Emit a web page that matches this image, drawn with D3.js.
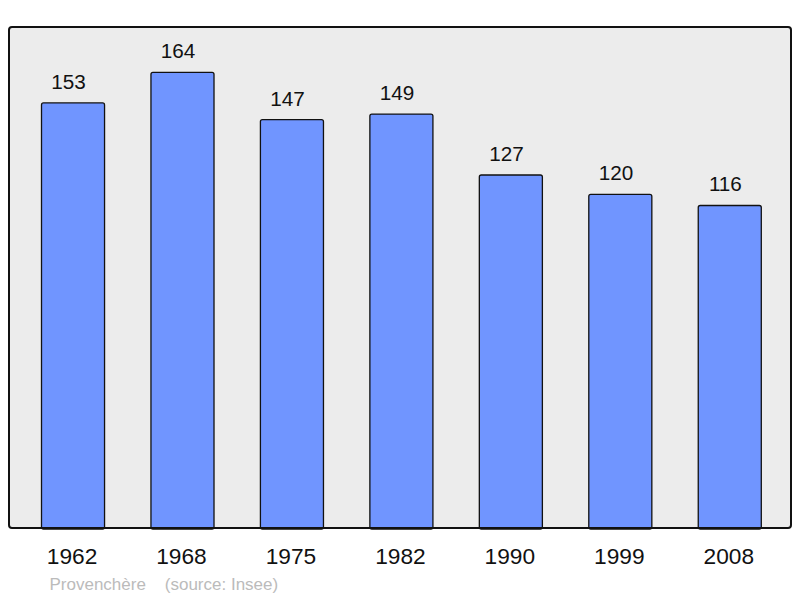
<!DOCTYPE html>
<html><head><meta charset="utf-8">
<script src="https://cdn.jsdelivr.net/npm/d3@7"></script>
<style>html,body{margin:0;padding:0;background:#fff;}svg{display:block;font-family:"Liberation Sans",Arial,sans-serif;}</style>
</head><body>
<svg id="c" width="800" height="598"></svg>
<script>
const years = ["1962","1968","1975","1982","1990","1999","2008"];
const population = [153,164,147,149,127,120,116];
const footerName = "Provenchère";
const footerSource = "(source: Insee)";

const svg = d3.select("#c");
const frame = {x:9, y:27, w:782, h:501};
const x = d3.scaleBand().domain(years).range([18.3, 784.5]).paddingInner(0.424).paddingOuter(0.212);
const y = d3.scaleLinear().domain([0, d3.max(population)*1.1]).range([frame.y+frame.h-1, frame.y]);

svg.append("rect").attr("x",frame.x).attr("y",frame.y).attr("width",frame.w).attr("height",frame.h)
  .attr("rx",3).attr("fill","#ececec").attr("stroke","none");

const data = years.map((yr,i)=>({yr, v: population[i]}));
svg.selectAll("rect.bar").data(data).enter().append("rect").attr("class","bar")
  .attr("x", d=>x(d.yr)).attr("width", x.bandwidth())
  .attr("y", d=>y(d.v)).attr("height", d=>y(0)-y(d.v)+2)
  .attr("rx",2).attr("fill","#7095ff").attr("stroke","#111").attr("stroke-width",1.3);

svg.append("rect").attr("x",frame.x).attr("y",frame.y).attr("width",frame.w).attr("height",frame.h)
  .attr("rx",3).attr("fill","none").attr("stroke","#111").attr("stroke-width",2);

svg.selectAll("text.val").data(data).enter().append("text").attr("class","val")
  .attr("x", d=>x(d.yr)+x.bandwidth()/2-4.4).attr("y", d=>y(d.v)-14)
  .attr("text-anchor","middle").attr("font-size",20.7).attr("fill","#111").text(d=>d.v);

const xAxis = d3.axisBottom(x).tickSize(0).tickPadding(0);
const ag = svg.append("g").attr("transform",`translate(-1,${frame.y+frame.h})`).call(xAxis);
ag.select(".domain").remove();
ag.selectAll("text").attr("font-size",22.7).attr("fill","#111").attr("dy",null).attr("y",36.3)
  .attr("font-family","Liberation Sans, Arial, sans-serif");

svg.append("text").attr("x",49.5).attr("y",590).attr("font-size",17).attr("fill","#bbbbbb")
  .attr("xml:space","preserve").text(footerName + "    " + footerSource);
</script>
</body></html>
